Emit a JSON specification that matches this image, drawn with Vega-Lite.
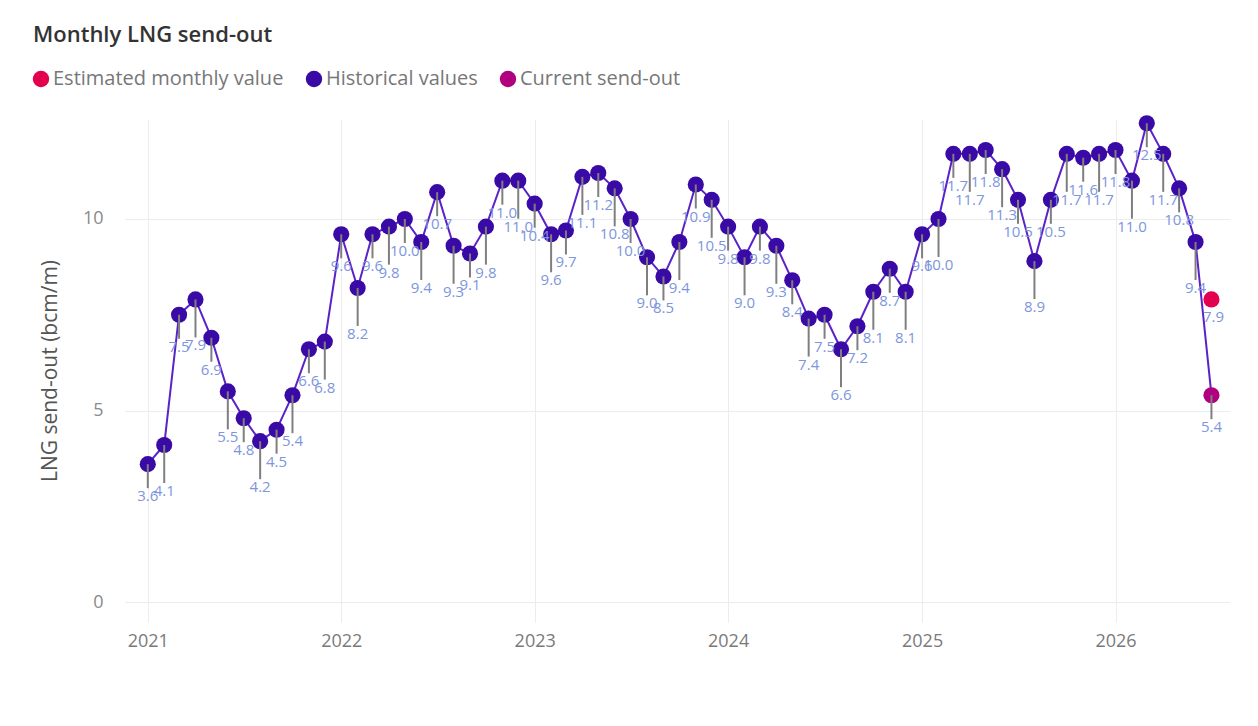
{
  "$schema": "https://vega.github.io/schema/vega-lite/v6.json",
  "width": 1105,
  "height": 503,
  "padding": {"left": 31, "top": 24, "right": 20, "bottom": 10},
  "background": "white",
  "title": {
    "text": "Monthly LNG send-out",
    "anchor": "start",
    "frame": "group",
    "dx": -92,
    "offset": 22,
    "fontSize": 22,
    "fontWeight": 600,
    "font": "Open Sans",
    "color": "#333333"
  },
  "data": {
    "values": [
      {"month": "2021-01-01", "value": 3.6, "series": "Historical values"},
      {"month": "2021-02-01", "value": 4.1, "series": "Historical values"},
      {"month": "2021-03-01", "value": 7.5, "series": "Historical values"},
      {"month": "2021-04-01", "value": 7.9, "series": "Historical values"},
      {"month": "2021-05-01", "value": 6.9, "series": "Historical values"},
      {"month": "2021-06-01", "value": 5.5, "series": "Historical values"},
      {"month": "2021-07-01", "value": 4.8, "series": "Historical values"},
      {"month": "2021-08-01", "value": 4.2, "series": "Historical values"},
      {"month": "2021-09-01", "value": 4.5, "series": "Historical values"},
      {"month": "2021-10-01", "value": 5.4, "series": "Historical values"},
      {"month": "2021-11-01", "value": 6.6, "series": "Historical values"},
      {"month": "2021-12-01", "value": 6.8, "series": "Historical values"},
      {"month": "2022-01-01", "value": 9.6, "series": "Historical values"},
      {"month": "2022-02-01", "value": 8.2, "series": "Historical values"},
      {"month": "2022-03-01", "value": 9.6, "series": "Historical values"},
      {"month": "2022-04-01", "value": 9.8, "series": "Historical values"},
      {"month": "2022-05-01", "value": 10.0, "series": "Historical values"},
      {"month": "2022-06-01", "value": 9.4, "series": "Historical values"},
      {"month": "2022-07-01", "value": 10.7, "series": "Historical values"},
      {"month": "2022-08-01", "value": 9.3, "series": "Historical values"},
      {"month": "2022-09-01", "value": 9.1, "series": "Historical values"},
      {"month": "2022-10-01", "value": 9.8, "series": "Historical values"},
      {"month": "2022-11-01", "value": 11.0, "series": "Historical values"},
      {"month": "2022-12-01", "value": 11.0, "series": "Historical values"},
      {"month": "2023-01-01", "value": 10.4, "series": "Historical values"},
      {"month": "2023-02-01", "value": 9.6, "series": "Historical values"},
      {"month": "2023-03-01", "value": 9.7, "series": "Historical values"},
      {"month": "2023-04-01", "value": 11.1, "series": "Historical values"},
      {"month": "2023-05-01", "value": 11.2, "series": "Historical values"},
      {"month": "2023-06-01", "value": 10.8, "series": "Historical values"},
      {"month": "2023-07-01", "value": 10.0, "series": "Historical values"},
      {"month": "2023-08-01", "value": 9.0, "series": "Historical values"},
      {"month": "2023-09-01", "value": 8.5, "series": "Historical values"},
      {"month": "2023-10-01", "value": 9.4, "series": "Historical values"},
      {"month": "2023-11-01", "value": 10.9, "series": "Historical values"},
      {"month": "2023-12-01", "value": 10.5, "series": "Historical values"},
      {"month": "2024-01-01", "value": 9.8, "series": "Historical values"},
      {"month": "2024-02-01", "value": 9.0, "series": "Historical values"},
      {"month": "2024-03-01", "value": 9.8, "series": "Historical values"},
      {"month": "2024-04-01", "value": 9.3, "series": "Historical values"},
      {"month": "2024-05-01", "value": 8.4, "series": "Historical values"},
      {"month": "2024-06-01", "value": 7.4, "series": "Historical values"},
      {"month": "2024-07-01", "value": 7.5, "series": "Historical values"},
      {"month": "2024-08-01", "value": 6.6, "series": "Historical values"},
      {"month": "2024-09-01", "value": 7.2, "series": "Historical values"},
      {"month": "2024-10-01", "value": 8.1, "series": "Historical values"},
      {"month": "2024-11-01", "value": 8.7, "series": "Historical values"},
      {"month": "2024-12-01", "value": 8.1, "series": "Historical values"},
      {"month": "2025-01-01", "value": 9.6, "series": "Historical values"},
      {"month": "2025-02-01", "value": 10.0, "series": "Historical values"},
      {"month": "2025-03-01", "value": 11.7, "series": "Historical values"},
      {"month": "2025-04-01", "value": 11.7, "series": "Historical values"},
      {"month": "2025-05-01", "value": 11.8, "series": "Historical values"},
      {"month": "2025-06-01", "value": 11.3, "series": "Historical values"},
      {"month": "2025-07-01", "value": 10.5, "series": "Historical values"},
      {"month": "2025-08-01", "value": 8.9, "series": "Historical values"},
      {"month": "2025-09-01", "value": 10.5, "series": "Historical values"},
      {"month": "2025-10-01", "value": 11.7, "series": "Historical values"},
      {"month": "2025-11-01", "value": 11.6, "series": "Historical values"},
      {"month": "2025-12-01", "value": 11.7, "series": "Historical values"},
      {"month": "2026-01-01", "value": 11.8, "series": "Historical values"},
      {"month": "2026-02-01", "value": 11.0, "series": "Historical values"},
      {"month": "2026-03-01", "value": 12.5, "series": "Historical values"},
      {"month": "2026-04-01", "value": 11.7, "series": "Historical values"},
      {"month": "2026-05-01", "value": 10.8, "series": "Historical values"},
      {"month": "2026-06-01", "value": 9.4, "series": "Historical values"},
      {"month": "2026-07-01", "value": 5.4, "series": "Current send-out"},
      {"month": "2026-07-01", "value": 7.9, "series": "Estimated monthly value"}
    ]
  },
  "transform": [
    {"window": [{"op": "row_number", "as": "idx"}]}
  ],
  "encoding": {
    "x": {
      "field": "month",
      "type": "temporal",
      "title": null,
      "scale": {"domain": ["2020-11-19", "2026-08-05"]},
      "axis": {
        "format": "%Y",
        "tickCount": {"interval": "year", "step": 1},
        "grid": true,
        "gridColor": "#ececec",
        "domain": false,
        "ticks": false,
        "labelPadding": 10,
        "labelFontSize": 18,
        "labelColor": "#7a7a7a",
        "labelFont": "Open Sans"
      }
    },
    "y": {
      "field": "value",
      "type": "quantitative",
      "title": "LNG send-out (bcm/m)",
      "scale": {"domain": [-0.52, 12.61], "nice": false, "zero": false},
      "axis": {
        "values": [0, 5, 10],
        "grid": true,
        "gridColor": "#ececec",
        "domain": false,
        "ticks": false,
        "labelPadding": 22,
        "labelFontSize": 18,
        "labelColor": "#8a8a8a",
        "labelFont": "Open Sans",
        "titleFont": "Open Sans",
        "titleFontSize": 21,
        "titleFontWeight": "normal",
        "titleColor": "#555555",
        "titlePadding": 22
      }
    }
  },
  "layer": [
    {
      "transform": [{"filter": "datum.series != 'Estimated monthly value'"}],
      "mark": {"type": "line", "color": "#5a22c8", "strokeWidth": 2}
    },
    {
      "mark": {"type": "point", "filled": true, "opacity": 1, "size": 260, "shape": "circle"},
      "encoding": {
        "color": {
          "field": "series",
          "type": "nominal",
          "scale": {
            "domain": ["Estimated monthly value", "Historical values", "Current send-out"],
            "range": ["#e3004f", "#3a0aa6", "#b1007f"]
          },
          "legend": {
            "title": null,
            "orient": "none",
            "direction": "horizontal",
            "legendX": -94,
            "legendY": -50,
            "symbolType": "circle",
            "symbolSize": 270,
            "symbolOpacity": 1,
            "labelFontSize": 20,
            "labelLimit": 0,
            "labelColor": "#777777",
            "labelFont": "Open Sans",
            "labelOffset": 2,
            "columnPadding": 20
          }
        }
      }
    },
    {
      "transform": [{"filter": "datum.series != 'Estimated monthly value' && datum.idx % 2 == 1"}],
      "mark": {"type": "rule", "color": "#7f7f7f", "strokeWidth": 2, "y2Offset": 24},
      "encoding": {"y2": {"field": "value"}}
    },
    {
      "transform": [{"filter": "datum.series != 'Estimated monthly value' && datum.idx % 2 == 0"}],
      "mark": {"type": "rule", "color": "#7f7f7f", "strokeWidth": 2, "y2Offset": 38},
      "encoding": {"y2": {"field": "value"}}
    },
    {
      "transform": [{"filter": "datum.series != 'Estimated monthly value' && datum.idx % 2 == 1"}],
      "mark": {"type": "text", "color": "#7d96dd", "fontSize": 15, "font": "Open Sans", "baseline": "top", "dy": 25},
      "encoding": {"text": {"field": "value", "type": "quantitative", "format": ".1f"}}
    },
    {
      "transform": [{"filter": "datum.series != 'Estimated monthly value' && datum.idx % 2 == 0"}],
      "mark": {"type": "text", "color": "#7d96dd", "fontSize": 15, "font": "Open Sans", "baseline": "top", "dy": 39},
      "encoding": {"text": {"field": "value", "type": "quantitative", "format": ".1f"}}
    },
    {
      "transform": [{"filter": "datum.series == 'Estimated monthly value'"}],
      "mark": {"type": "text", "color": "#7d96dd", "fontSize": 15, "font": "Open Sans", "baseline": "top", "dy": 11, "dx": 2},
      "encoding": {"text": {"field": "value", "type": "quantitative", "format": ".1f"}}
    }
  ],
  "config": {
    "view": {"stroke": null}
  }
}
